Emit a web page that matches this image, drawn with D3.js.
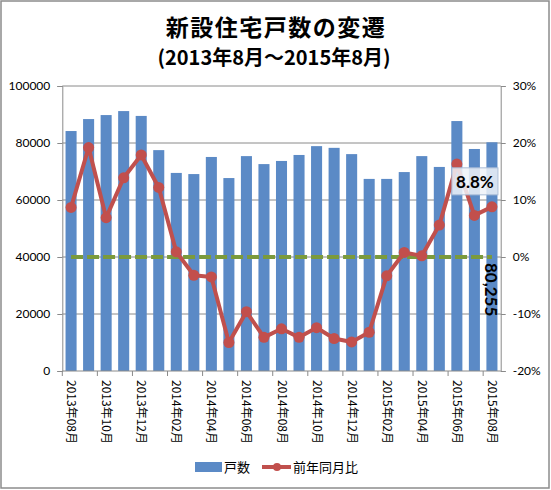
<!DOCTYPE html>
<html>
<head>
<meta charset="utf-8">
<script src="https://cdn.jsdelivr.net/npm/d3@7"></script>
<style>
  body { margin: 0; background: #fff; }
  text { font-family: Lato, "Noto Sans CJK JP", sans-serif; }
</style>
</head>
<body>
<div id="wrapper"></div>
<script>
// data
const months = ["2013年08月","2013年09月","2013年10月","2013年11月","2013年12月",
  "2014年01月","2014年02月","2014年03月","2014年04月","2014年05月","2014年06月",
  "2014年07月","2014年08月","2014年09月","2014年10月","2014年11月","2014年12月",
  "2015年01月","2015年02月","2015年03月","2015年04月","2015年05月","2015年06月",
  "2015年07月","2015年08月"]
const units = [84200, 88400, 89800, 91200, 89500, 77500, 69500, 69100, 75100, 67700,
  75400, 72600, 73700, 75800, 78900, 78300, 76100, 67400, 67400, 69800,
  75400, 71600, 87700, 77900, 80255]
const yoy = [8.7, 19.2, 6.9, 13.9, 17.9, 12.2, 0.9, -3.2, -3.5, -15.0,
  -9.6, -14.1, -12.6, -14.1, -12.4, -14.3, -14.9, -13.2, -3.3, 0.8,
  0.2, 5.6, 16.3, 7.3, 8.8]
const leftTicks = [0, 20000, 40000, 60000, 80000, 100000]
const rightTicks = [-20, -10, 0, 10, 20, 30]

function drawChart() {
  const dimensions = {
    width: 551,
    height: 490,
    margin: { top: 86, bottom: 119, left: 62.3, right: 50.3 }
  }
  dimensions.boundedWidth = dimensions.width - dimensions.margin.left - dimensions.margin.right
  dimensions.boundedHeight = dimensions.height - dimensions.margin.top - dimensions.margin.bottom

  const svg = d3.select("#wrapper").append("svg")
      .attr("width", dimensions.width)
      .attr("height", dimensions.height)

  // outer frame
  svg.append("rect")
      .attr("x", 1).attr("y", 1)
      .attr("width", 548).attr("height", 487)
      .attr("fill", "#fff")
      .attr("stroke", "#8c8c8c")
      .attr("stroke-width", 1.5)

  // titles
  svg.append("text")
      .attr("x", 276).attr("y", 36)
      .attr("text-anchor", "middle")
      .style("font-family", "'Noto Sans CJK JP'")
      .style("font-weight", "bold")
      .style("font-size", "23px")
      .style("letter-spacing", "1.5px")
      .text("新設住宅戸数の変遷")
  svg.append("text")
      .attr("x", 274).attr("y", 65)
      .attr("text-anchor", "middle")
      .style("font-family", "'Noto Sans CJK JP'")
      .style("font-weight", "bold")
      .style("font-size", "20px")
      .text("(2013年8月～2015年8月)")

  const bounds = svg.append("g")
      .attr("transform", `translate(${dimensions.margin.left},${dimensions.margin.top})`)

  // scales
  const xScale = d3.scaleBand()
      .domain(months)
      .range([0, dimensions.boundedWidth])
      .paddingInner(0.37)
      .paddingOuter(0.185)
  const step = xScale.step()
  const yLeft = d3.scaleLinear()
      .domain([0, 100000])
      .range([dimensions.boundedHeight, 0])
  const yRight = d3.scaleLinear()
      .domain([-20, 30])
      .range([dimensions.boundedHeight, 0])

  // gridlines
  bounds.append("g")
      .selectAll("line")
      .data(leftTicks.slice(1))
      .join("line")
      .attr("x1", 0).attr("x2", dimensions.boundedWidth)
      .attr("y1", d => yLeft(d)).attr("y2", d => yLeft(d))
      .attr("stroke", "#8a8a8a")
      .attr("stroke-width", 1)

  // bars
  bounds.append("g")
      .selectAll("rect")
      .data(units)
      .join("rect")
      .attr("x", (d, i) => xScale(months[i]))
      .attr("y", d => yLeft(d))
      .attr("width", xScale.bandwidth())
      .attr("height", d => dimensions.boundedHeight - yLeft(d))
      .attr("fill", "#5b8ac6")

  // left axis
  const leftAxis = d3.axisLeft(yLeft)
      .tickValues(leftTicks)
      .tickFormat(d3.format("d"))
      .tickSize(5)
      .tickPadding(7)
  const la = bounds.append("g").call(leftAxis)
  la.select(".domain").attr("stroke", "#8a8a8a")
  la.selectAll(".tick line").attr("stroke", "#8a8a8a")
  la.selectAll("text").style("font-size", "12px").attr("fill", "#000")
      .style("font-family", "Lato")

  // right axis
  const rightAxis = d3.axisRight(yRight)
      .tickValues(rightTicks)
      .tickFormat(d => d + "%")
      .tickSize(5)
      .tickPadding(7)
  const ra = bounds.append("g")
      .attr("transform", `translate(${dimensions.boundedWidth},0)`)
      .call(rightAxis)
  ra.select(".domain").attr("stroke", "#8a8a8a")
  ra.selectAll(".tick line").attr("stroke", "#8a8a8a")
  ra.selectAll("text").style("font-size", "12px").attr("fill", "#000")
      .style("font-family", "Lato")

  // bottom axis: ticks every two categories at band edges
  const bottom = bounds.append("g")
      .attr("transform", `translate(0,${dimensions.boundedHeight})`)
  bottom.append("line")
      .attr("x1", 0).attr("x2", dimensions.boundedWidth)
      .attr("stroke", "#8a8a8a")
  bottom.selectAll(".xtick")
      .data(months.filter((d, i) => i % 2 === 0))
      .join("line")
      .attr("class", "xtick")
      .attr("x1", d => xScale(d) - (step - xScale.bandwidth()) / 2)
      .attr("x2", d => xScale(d) - (step - xScale.bandwidth()) / 2)
      .attr("y1", 0).attr("y2", 5)
      .attr("stroke", "#8a8a8a")
  bottom.selectAll(".xlabel")
      .data(months.filter((d, i) => i % 2 === 0))
      .join("text")
      .attr("class", "xlabel")
      .attr("transform", d => `translate(${xScale(d) + xScale.bandwidth() / 2 - 4},9) rotate(90)`)
      .style("font-family", "'Noto Sans CJK JP'")
      .style("font-size", "12px")
      .text(d => d)

  // zero reference dashed line
  const xCenter = (d, i) => xScale(months[i]) + xScale.bandwidth() / 2
  bounds.append("line")
      .attr("x1", xCenter(null, 0))
      .attr("x2", xCenter(null, months.length - 1))
      .attr("y1", yRight(0)).attr("y2", yRight(0))
      .attr("stroke", "#7b9a3c")
      .attr("stroke-width", 4)
      .attr("stroke-dasharray", "12,4")

  // YoY line
  const line = d3.line()
      .x(xCenter)
      .y(d => yRight(d))
  bounds.append("path")
      .datum(yoy)
      .attr("d", line)
      .attr("fill", "none")
      .attr("stroke", "#c0504d")
      .attr("stroke-width", 4)
      .attr("stroke-linejoin", "round")
  bounds.append("g")
      .selectAll("circle")
      .data(yoy)
      .join("circle")
      .attr("cx", xCenter)
      .attr("cy", d => yRight(d))
      .attr("r", 5.5)
      .attr("fill", "#c24f4c")

  // data labels
  const last = months.length - 1
  const lx = xCenter(null, last)
  const ly = yRight(yoy[last])
  const lbl = bounds.append("g")
      .attr("transform", `translate(${lx - 40},${ly - 25})`)
  lbl.append("rect")
      .attr("x", 0).attr("y", -14)
      .attr("width", 46).attr("height", 27)
      .attr("fill", "#eef2f8")
      .attr("fill-opacity", 0.85)
      .attr("stroke", "#a9bcd6")
  lbl.append("text")
      .attr("x", 23).attr("y", 6)
      .attr("text-anchor", "middle")
      .style("font-size", "17px")
      .style("font-weight", "bold")
      .text(d3.format(".1f")(yoy[last]) + "%")

  bounds.append("text")
      .attr("transform", `translate(${lx - 7},${yRight(0) + 6}) rotate(90)`)
      .style("font-size", "17px")
      .style("font-weight", "bold")
      .text(d3.format(",")(units[last]))

  // legend
  const legend = svg.append("g")
  legend.append("rect")
      .attr("x", 195).attr("y", 462)
      .attr("width", 27).attr("height", 10)
      .attr("fill", "#5b8ac6")
  legend.append("text")
      .attr("x", 224).attr("y", 472)
      .style("font-family", "'Noto Sans CJK JP'")
      .style("font-size", "13px")
      .text("戸数")
  legend.append("line")
      .attr("x1", 262).attr("x2", 291)
      .attr("y1", 467).attr("y2", 467)
      .attr("stroke", "#c0504d")
      .attr("stroke-width", 4)
  legend.append("circle")
      .attr("cx", 277).attr("cy", 467)
      .attr("r", 4)
      .attr("fill", "#c24f4c")
  legend.append("text")
      .attr("x", 293).attr("y", 472)
      .style("font-family", "'Noto Sans CJK JP'")
      .style("font-size", "13px")
      .text("前年同月比")
}
drawChart()
</script>
</body>
</html>
